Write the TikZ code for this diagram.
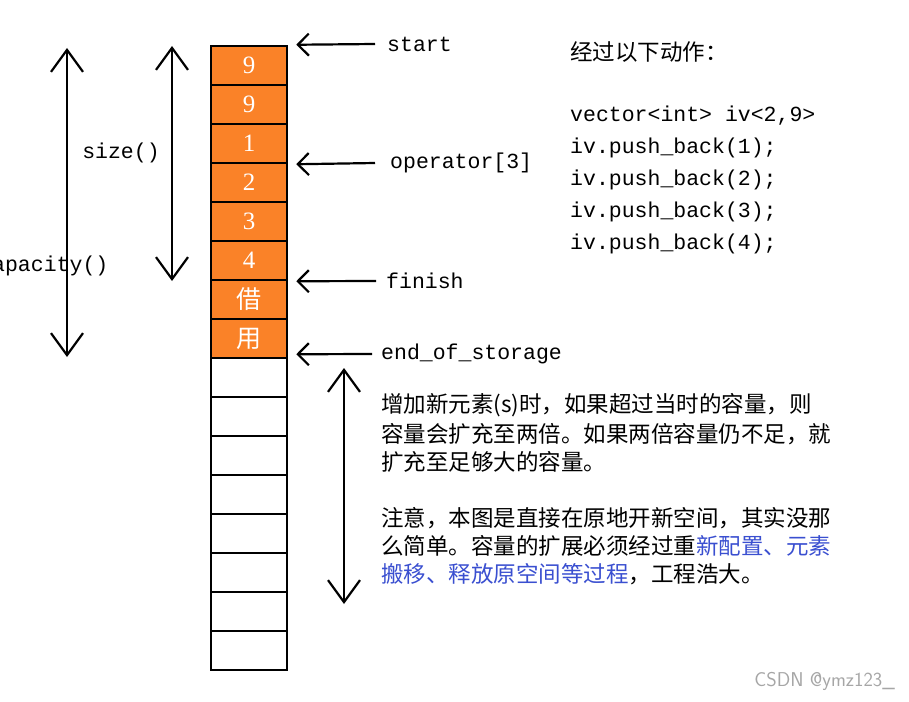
\documentclass[tikz,border=0pt]{standalone}
\usepackage{fontspec}
\setmainfont{Liberation Serif}
\setmonofont{Liberation Mono}
\newfontfamily\cjk{Noto Sans CJK SC}
\usetikzlibrary{arrows.meta,positioning,calc}
\definecolor{cellorange}{HTML}{FA8228}
\definecolor{noteblue}{HTML}{3A4FD0}
\tikzset{
  cellbox/.style={draw,line width=2.5pt,minimum width=76pt,minimum height=39pt,inner sep=0pt},
  fullcell/.style={cellbox,fill=cellorange,text=white,font=\fontsize{25}{27}\selectfont},
  ptr/.style={line width=2.2pt,-{Straight Barb[length=11pt,width=22pt,line width=2.2pt]}},
  span/.style={line width=2.2pt,{Straight Barb[length=22pt,width=32pt,line width=2.2pt]}-{Straight Barb[length=22pt,width=32pt,line width=2.2pt]}},
  code/.style={anchor=west,inner sep=0pt,font=\ttfamily\fontsize{21.5}{23}\selectfont},
  note/.style={anchor=west,inner sep=0pt,font=\cjk\fontsize{22.5}{24}\selectfont}
}
\begin{document}
\begin{tikzpicture}[x=1pt,y=-1pt]
\useasboundingbox (0,0) rectangle (909,701);

%Column
\foreach \v [count=\i] in {9,9,1,2,3,4,{\cjk 借},{\cjk 用}}
  \node[fullcell] (c\i) at (249,{46+39*(\i-1)+19.5}) {\v};
\foreach \i in {9,...,16}
  \node[cellbox] (c\i) at (249,{46+39*(\i-1)+19.5}) {};

%Pointers
\node[code] (start) at (387,44) {start};
\node[code] (op) at (390,163) {operator[3]};
\node[code] (finish) at (386,281) {finish};
\node[code] (eos) at (381,354) {end\_of\_storage};
\draw[ptr] ($(start.west)+(-12,0)$) -- ($(c1.north east)+(8,0)$);
\draw[ptr] ($(op.west)+(-15,0)$) -- ($(c3.south east)+(8,0)$);
\draw[ptr] ($(finish.west)+(-10,0)$) -- ($(c6.south east)+(8,0)$);
\draw[ptr] ($(eos.west)+(-9,0)$) -- ($(c8.south east)+(8,-5)$);

%Sizes
\coordinate (captop) at (67,48);
\coordinate (capbot) at (67,357);
\coordinate (sizetop) at (172,46);
\coordinate (sizebot) at (172,281);
\coordinate (growtop) at (344,368);
\coordinate (growbot) at (344,604);
\draw[span] (captop) -- (capbot);
\draw[span] (sizetop) -- (sizebot);
\draw[span] (growtop) -- (growbot);
\node[code,anchor=center] (size) at (121,153) {size()};
\node[code] (cap) at (-8,266) {apacity()};

%Code
\node[note] (title) at (570,52) {经过以下动作：};
\foreach \t [count=\i] in {{vector<int> iv<2,9>},iv.push\_back(1);,iv.push\_back(2);,iv.push\_back(3);,iv.push\_back(4);}
  \node[code] (line\i) at (570,{116+32*(\i-1)}) {\t};

%Notes
\node[note] (n1) at (381,405) {增加新元素(s)时，如果超过当时的容量，则};
\node[note] (n2) at (381,434) {容量会扩充至两倍。如果两倍容量仍不足，就};
\node[note] (n3) at (381,462) {扩充至足够大的容量。};
\node[note] (n4) at (381,518) {注意，本图是直接在原地开新空间，其实没那};
\node[note] (n5) at (381,546) {么简单。容量的扩展必须经过重\textcolor{noteblue}{新配置、元素}};
\node[note] (n6) at (381,574) {\textcolor{noteblue}{搬移、释放原空间等过程}，工程浩大。};

\node[anchor=east,inner sep=0pt,text=black!35,font=\sffamily\fontsize{20}{22}\selectfont] (mark) at (895,681) {CSDN @ymz123\_};
\end{tikzpicture}
\end{document}
